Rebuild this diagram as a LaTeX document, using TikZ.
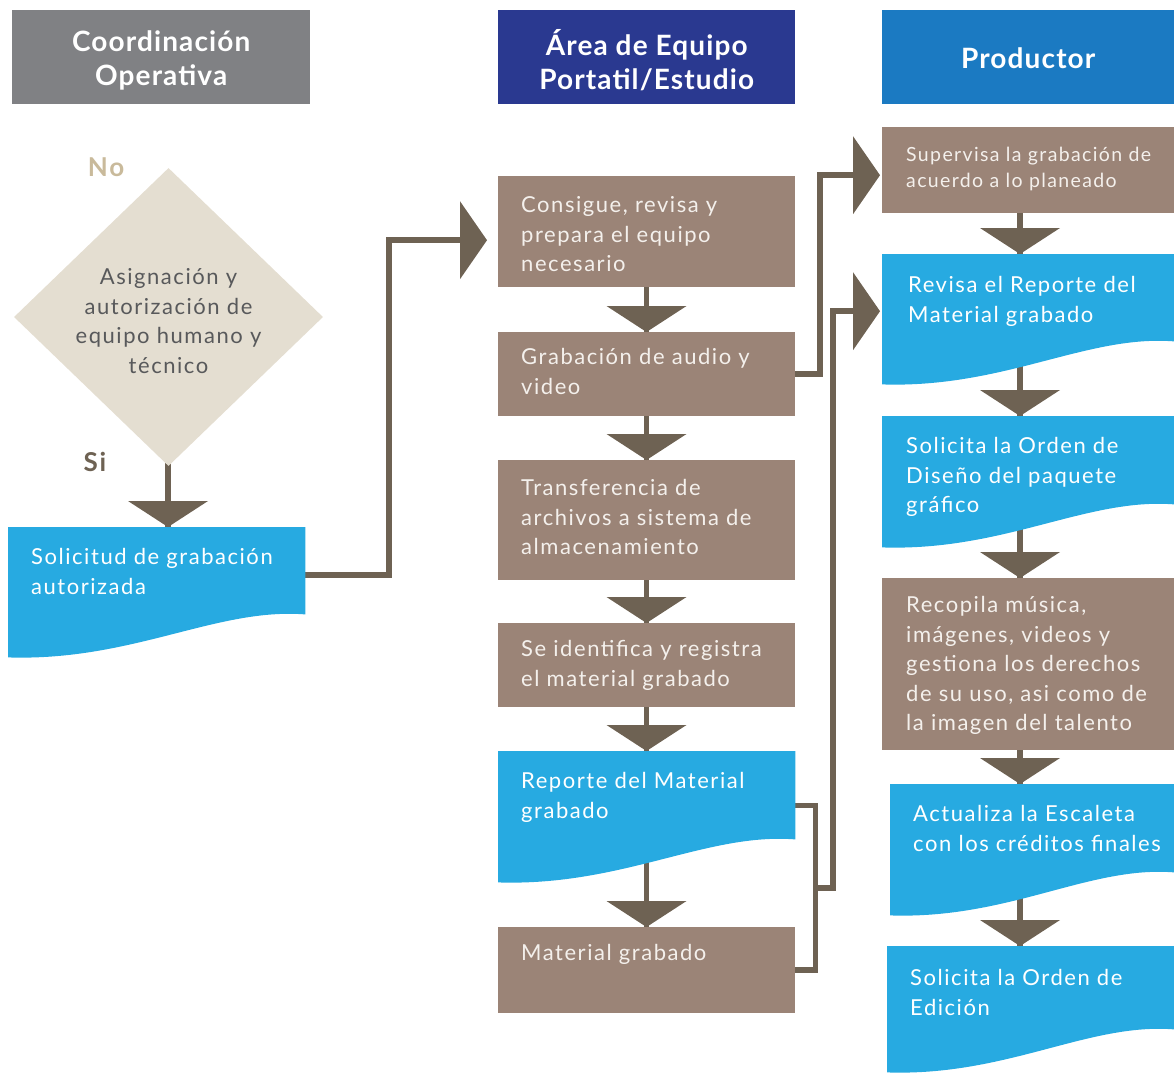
\documentclass[tikz,border=0pt]{standalone}
\usepackage{fontspec}
\setmainfont{Lato}[LetterSpace=7]
\newfontfamily\hdrfont{Lato}[LetterSpace=4]
\usetikzlibrary{shapes.geometric,calc}
\definecolor{boxbrown}{HTML}{9B8477}
\definecolor{boxblue}{HTML}{27AAE1}
\definecolor{conncol}{HTML}{6E6253}
\definecolor{diabeige}{HTML}{E4DED1}
\definecolor{hgray}{HTML}{808184}
\definecolor{hnavy}{HTML}{2A3990}
\definecolor{hblue}{HTML}{1B7AC2}
\definecolor{lighttxt}{HTML}{F4F0EC}
\definecolor{diatxt}{HTML}{58595B}
\definecolor{notxt}{HTML}{C9BA9B}
\pgfdeclarelayer{connlayer}
\pgfdeclarelayer{bglayer}
\pgfsetlayers{connlayer,bglayer,main}
\tikzset{
  hdr/.style={anchor=north west, inner sep=0, minimum height=94, draw=none},
  hdrtxt/.style={inner sep=0, align=center, text=white,
    font=\hdrfont\fontsize{28}{34}\selectfont\bfseries},
  brownbox/.style={anchor=north west, inner sep=0, fill=boxbrown, draw=none},
  bluebox/.style={anchor=north west, inner sep=0, draw=none},
  btxt/.style={anchor=north west, inner sep=0, align=left, text=lighttxt,
    font=\fontsize{22}{29.5}\selectfont},
  wtxt/.style={btxt, text=white},
  conn/.style={draw=conncol, line width=5.5pt},
}
\newcommand\wavefill[2]{% node name, width
  \begin{pgfonlayer}{bglayer}
  \fill[boxblue] (#1.north west) -- (#1.north east) -- ($(#1.south east)+(0,-43)$)
    .. controls ($(#1.south east)+({-0.3*#2},-50)$) and ($(#1.south west)+({0.42*#2},4)$)
    .. (#1.south west) -- cycle;
  \end{pgfonlayer}}
\newcommand\dnarrow[3]{% from, to, column coordinate
  \begin{pgfonlayer}{connlayer}
  \draw[conn] (#1.center -| #3) -- (#2.north -| #3);
  \end{pgfonlayer}
  \fill[conncol] ($(#2.north -| #3)+(-40,-26)$) -- ($(#2.north -| #3)+(40,-26)$) -- (#2.north -| #3) -- cycle;}
\newcommand\rtarrow[1]{%
  \fill[conncol] (#1) -- ++(-27,-39) -- ++(0,78) -- cycle;}
\begin{document}
\begin{tikzpicture}[x=1pt,y=-1pt]
\useasboundingbox (0,0) rectangle (1174,1072);
\coordinate (colL) at (168,0);
\coordinate (colM) at (646.5,0);
\coordinate (colR) at (1020,0);

% headers
\node[hdr, fill=hgray, minimum width=298] (h1) at (12,10) {};
\node[hdrtxt] (h1txt) at ([yshift=-3]h1.center) {Coordinación\\Operativa};
\node[hdr, fill=hnavy, minimum width=297] (h2) at (498,10) {};
\node[hdrtxt] (h2txt) at ([yshift=-3]h2.center) {Área de Equipo\\Portatil/Estudio};
\node[hdr, fill=hblue, minimum width=292] (h3) at (882,10) {};
\node[hdrtxt] (h3txt) at ([yshift=-1]h3.center) {Productor};

% decision
\node[diamond, fill=diabeige, inner sep=0, minimum width=309, minimum height=298] (dec) at (168.5,317) {};
\node[align=center, inner sep=0, text=diatxt, font=\fontsize{22}{29.5}\selectfont] (dectxt) at ([yshift=-4]dec.center) {Asignación y\\autorización de\\equipo humano y\\técnico};
\node[text=notxt, font=\fontsize{26}{28}\selectfont\bfseries] (no) at (106,167) {No};
\node[text=conncol, font=\fontsize{26}{28}\selectfont\bfseries] (si) at (95,462) {Si};

% left column
\node[bluebox, minimum width=297, minimum height=130] (sol) at (8,527) {};
\wavefill{sol}{297}
\node[wtxt] (soltxt) at ($(sol.north west)+(23,17)$) {\strut Solicitud de grabación\\autorizada};

% middle column
\node[brownbox, minimum width=297, minimum height=111] (con) at (498,176) {};
\node[btxt] (contxt) at ($(con.north west)+(23,16)$) {\strut Consigue, revisa y\\prepara el equipo\\necesario};
\node[brownbox, minimum width=297, minimum height=84] (gra) at (498,332) {};
\node[btxt] (gratxt) at ($(gra.north west)+(23,12)$) {\strut Grabación de audio y\\video};
\node[brownbox, minimum width=297, minimum height=120] (tra) at (498,460) {};
\node[btxt] (tratxt) at ($(tra.north west)+(23,15)$) {\strut Transferencia de\\archivos a sistema de\\almacenamiento};
\node[brownbox, minimum width=297, minimum height=84] (ide) at (498,623) {};
\node[btxt] (idetxt) at ($(ide.north west)+(23,13)$) {\strut Se identifica y registra\\el material grabado};
\node[bluebox, minimum width=297, minimum height=131] (rep) at (498,751) {};
\wavefill{rep}{297}
\node[wtxt] (reptxt) at ($(rep.north west)+(23,17)$) {\strut Reporte del Material\\grabado};
\node[brownbox, minimum width=297, minimum height=86] (mat) at (498,927) {};
\node[btxt] (mattxt) at ($(mat.north west)+(23,13)$) {\strut Material grabado};

% right column
\node[brownbox, minimum width=292, minimum height=86] (sup) at (882,127) {};
\node[btxt, font=\fontsize{19.5}{26}\selectfont] (suptxt) at ($(sup.north west)+(24,16)$) {\strut Supervisa la grabación de\\acuerdo a lo planeado};
\node[bluebox, minimum width=292, minimum height=130] (rev) at (882,254) {};
\wavefill{rev}{292}
\node[wtxt] (revtxt) at ($(rev.north west)+(26,18)$) {\strut Revisa el Reporte del\\Material grabado};
\node[bluebox, minimum width=292, minimum height=131] (dis) at (882,416) {};
\wavefill{dis}{292}
\node[wtxt] (distxt) at ($(dis.north west)+(24,17)$) {\strut Solicita la Orden de\\Diseño del paquete\\gráfico};
\node[brownbox, minimum width=292, minimum height=172] (rec) at (882,578) {};
\node[btxt] (rectxt) at ($(rec.north west)+(24,14)$) {\strut Recopila música,\\imágenes, videos y\\gestiona los derechos\\de su uso, asi como de\\la imagen del talento};
\node[bluebox, minimum width=284, minimum height=131] (act) at (890,784) {};
\wavefill{act}{284}
\node[wtxt] (acttxt) at ($(act.north west)+(23,17)$) {\strut Actualiza la Escaleta\\con los créditos finales};
\node[bluebox, minimum width=287, minimum height=126] (edi) at (887,946) {};
\wavefill{edi}{287}
\node[wtxt] (editxt) at ($(edi.north west)+(23,19)$) {\strut Solicita la Orden de\\Edición};

% vertical flow arrows
\dnarrow{dec}{sol}{colL}
\dnarrow{con}{gra}{colM}
\dnarrow{gra}{tra}{colM}
\dnarrow{tra}{ide}{colM}
\dnarrow{ide}{rep}{colM}
\dnarrow{rep}{mat}{colM}
\dnarrow{sup}{rev}{colR}
\dnarrow{rev}{dis}{colR}
\dnarrow{dis}{rec}{colR}
\dnarrow{rec}{act}{colR}
\dnarrow{act}{edi}{colR}

% elbow connectors
\begin{pgfonlayer}{connlayer}
\draw[conn] ($(sol.east)+(0,-17)$) -| ($(con.west)+(-109,8.5)$) -- ($(con.west)+(-36,8.5)$);
\draw[conn] (gra.east) -| ($(sup.west)+(-62,5)$) -- ($(sup.west)+(-26,5)$);
\draw[conn] ($(rep.east)+(0,-11)$) -| ($(mat.east)+(20,0)$) -- (mat.east);
\draw[conn] ($(mat.east)+(20,-82)$) -| ($(rev.west)+(-49,-8)$) -- ($(rev.west)+(-26,-8)$);
\end{pgfonlayer}
\rtarrow{$(con.west)+(-11,8.5)$}
\rtarrow{$(sup.west)+(-2,5)$}
\rtarrow{$(rev.west)+(-2,-8)$}
\end{tikzpicture}
\end{document}
